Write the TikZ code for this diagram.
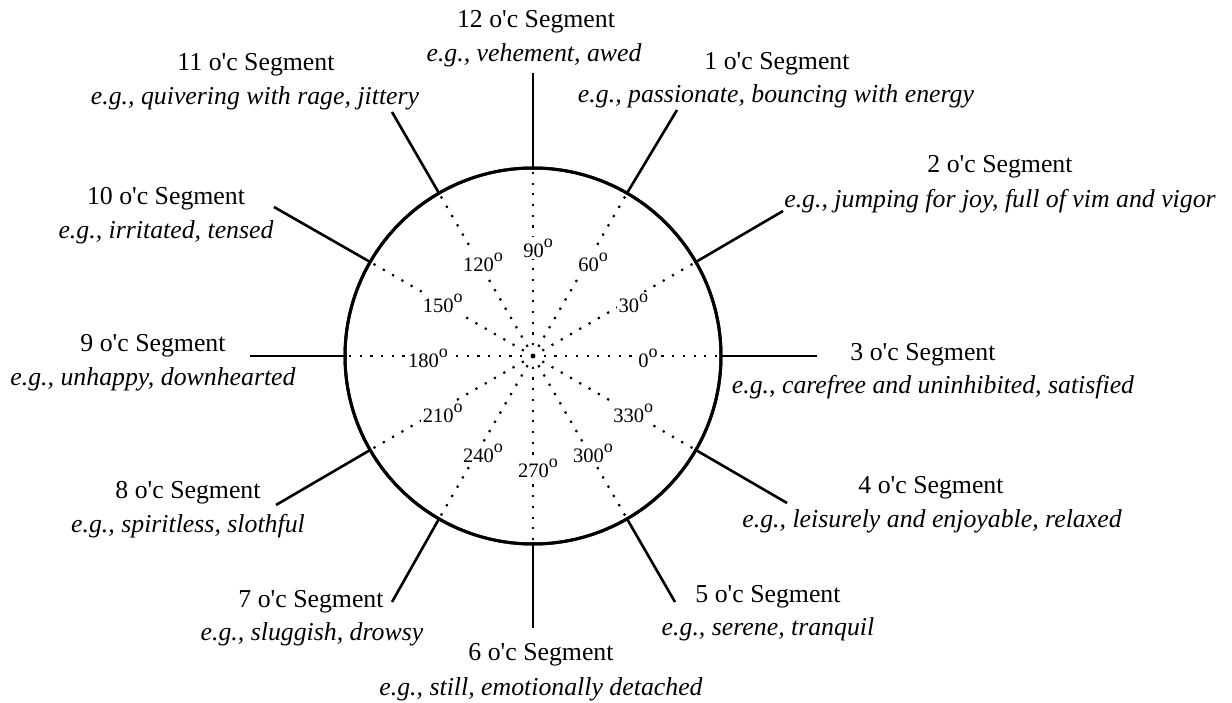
\documentclass[tikz,border=0pt]{standalone}
\usepackage{fontspec}
\setmainfont{Liberation Serif}
\usetikzlibrary{calc}
\newcommand{\degsup}{\raisebox{10pt}{\fontsize{18}{18}\selectfont o}}
\begin{document}
\begin{tikzpicture}[x=1pt,y=-1pt,
  seg/.style={font=\fontsize{25.8}{30}\selectfont, inner sep=0pt, anchor=base},
  ex/.style={seg, font=\fontsize{25.8}{30}\selectfont\itshape},
  deg/.style={font=\fontsize{20.5}{21}\selectfont, fill=white, inner sep=1.5pt},
  spoke/.style={line width=2.6pt},
  ray/.style={line width=2.2pt, dash pattern=on 2.2pt off 8.5pt},
  rim/.style={circle, draw, line width=3pt, minimum size=376pt, inner sep=0pt, outer sep=0pt}]
\useasboundingbox (0,0) rectangle (1232,703);
% circle
\node[rim] (C) at (533,356) {};
% dotted rays
\foreach \a in {0,30,...,330} \draw[ray] (C.center) -- (C.\a);
\draw[line width=3pt] (C.center) circle (188pt);
% degree labels
\foreach \a/\t in {0/0,30/30,60/60,90/90,120/120,150/150,180/180,210/210,240/240,270/270,300/300,330/330}
  \node[deg] (d\a) at ($(C.center)+(\a:110pt)+(5pt,-2pt)$) {\t\degsup};
% outer spoke ends
\coordinate (o12) at (533,73);
\coordinate (o1) at (677,110);
\coordinate (o2) at (783,211);
\coordinate (o3) at (817,356);
\coordinate (o4) at (787,503);
\coordinate (o5) at (675,602);
\coordinate (o6) at (533,628);
\coordinate (o7) at (392,602);
\coordinate (o8) at (276,505);
\coordinate (o9) at (250,356);
\coordinate (o10) at (274,207);
\coordinate (o11) at (392,112);
\draw[spoke] (C.90) -- (o12);
\draw[spoke] (C.60) -- (o1);
\draw[spoke] (C.30) -- (o2);
\draw[spoke] (C.0) -- (o3);
\draw[spoke] (C.-30) -- (o4);
\draw[spoke] (C.-60) -- (o5);
\draw[spoke] (C.-90) -- (o6);
\draw[spoke] (C.240) -- (o7);
\draw[spoke] (C.210) -- (o8);
\draw[spoke] (C.180) -- (o9);
\draw[spoke] (C.150) -- (o10);
\draw[spoke] (C.120) -- (o11);
% segment labels
\node[seg] (t12) at (536,28) {12 o\textquotesingle c Segment};
\node[ex]  (e12) at (534,62) {e.g., vehement, awed};
\node[seg] (t1) at (777,70) {1 o\textquotesingle c Segment};
\node[ex]  (e1) at (776,103) {e.g., passionate, bouncing with energy};
\node[seg] (t2) at (1000,173) {2 o\textquotesingle c Segment};
\node[ex]  (e2) at (1000,208) {e.g., jumping for joy, full of vim and vigor};
\node[seg] (t3) at (923,360) {3 o\textquotesingle c Segment};
\node[ex]  (e3) at (933,393) {e.g., carefree and uninhibited, satisfied};
\node[seg] (t4) at (931,493) {4 o\textquotesingle c Segment};
\node[ex]  (e4) at (932,527) {e.g., leisurely and enjoyable, relaxed};
\node[seg] (t5) at (768,602) {5 o\textquotesingle c Segment};
\node[ex]  (e5) at (768,635) {e.g., serene, tranquil};
\node[seg] (t6) at (541,660) {6 o\textquotesingle c Segment};
\node[ex]  (e6) at (541,695) {e.g., still, emotionally detached};
\node[seg] (t7) at (311,607) {7 o\textquotesingle c Segment};
\node[ex]  (e7) at (312,640) {e.g., sluggish, drowsy};
\node[seg] (t8) at (188,498) {8 o\textquotesingle c Segment};
\node[ex]  (e8) at (188,532) {e.g., spiritless, slothful};
\node[seg] (t9) at (153,352) {9 o\textquotesingle c Segment};
\node[ex]  (e9) at (153,385) {e.g., unhappy, downhearted};
\node[seg] (t10) at (166,205) {10 o\textquotesingle c Segment};
\node[ex]  (e10) at (166,239) {e.g., irritated, tensed};
\node[seg] (t11) at (256,71) {11 o\textquotesingle c Segment};
\node[ex]  (e11) at (255,105) {e.g., quivering with rage, jittery};
\end{tikzpicture}
\end{document}
